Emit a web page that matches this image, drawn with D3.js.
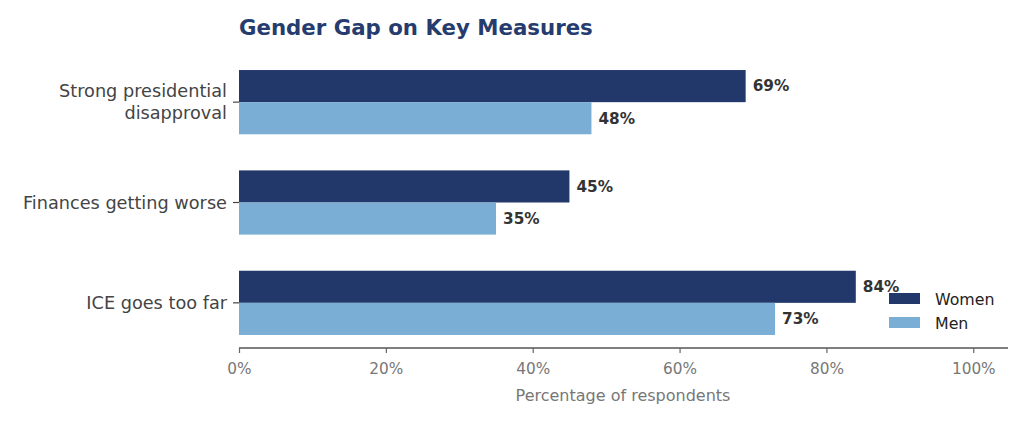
<!DOCTYPE html>
<html>
<head>
<meta charset="utf-8">
<script src="https://cdn.jsdelivr.net/npm/d3@7"></script>
<style>
  body { margin: 0; background: #fff; }
  text { font-family: "DejaVu Sans", sans-serif; }
</style>
</head>
<body>
<div class="chart"></div>
<script>
var categories = ["Strong presidential\ndisapproval", "Finances getting worse", "ICE goes too far"];
var women = [69, 45, 84];
var men = [48, 35, 73];
var xTicks = [0, 20, 40, 60, 80, 100];

var svgWidth = 1024;
var svgHeight = 421;

var svg = d3.select(".chart")
  .append("svg")
  .attr("width", svgWidth)
  .attr("height", svgHeight);

// plot area in pixels
var plot = { left: 239, right: 1010, top: 57, bottom: 348 };

var x = d3.scaleLinear().domain([0, 105]).range([plot.left, plot.right]);
var y = d3.scaleLinear().domain([-0.45, 2.45]).range([plot.top, plot.bottom]);
var barH = 0.32;

var colors = { women: "#22386a", men: "#7aaed5" };

// title
svg.append("text")
  .attr("x", plot.left)
  .attr("y", 35)
  .attr("font-size", "21.3px")
  .attr("font-weight", "bold")
  .attr("fill", "#263c6e")
  .text("Gender Gap on Key Measures");

// bars
var series = [
  { key: "women", values: women, offset: -barH },
  { key: "men", values: men, offset: 0 }
];

series.forEach(s => {
  svg.selectAll(".bar-" + s.key)
    .data(s.values)
    .enter()
    .append("rect")
    .attr("class", "bar-" + s.key)
    .attr("x", x(0))
    .attr("y", (d, i) => y(i + s.offset))
    .attr("width", d => x(d) - x(0))
    .attr("height", y(barH) - y(0))
    .attr("fill", colors[s.key]);

  svg.selectAll(".lbl-" + s.key)
    .data(s.values)
    .enter()
    .append("text")
    .attr("class", "lbl-" + s.key)
    .attr("x", d => x(d) + 7)
    .attr("y", (d, i) => y(i + s.offset + barH / 2))
    .attr("dy", "0.35em")
    .attr("font-size", "15.3px")
    .attr("font-weight", "bold")
    .attr("fill", "#333")
    .text(d => d + "%");
});

// x axis
var xAxis = svg.append("g")
  .attr("transform", `translate(0, ${plot.bottom})`)
  .call(d3.axisBottom(x).tickValues(xTicks).tickFormat(d => d + "%").tickSize(5).tickPadding(10));
xAxis.select(".domain").attr("stroke", "#555").attr("stroke-width", 1.6)
  .attr("d", `M${plot.left},0H${plot.right - 2}`);
xAxis.selectAll(".tick line").attr("stroke", "#666").attr("stroke-width", 1.2);
xAxis.selectAll(".tick text")
  .attr("font-family", "DejaVu Sans, sans-serif")
  .attr("font-size", "15.3px")
  .attr("fill", "#777");

svg.append("text")
  .attr("x", 623)
  .attr("y", 401)
  .attr("text-anchor", "middle")
  .attr("font-size", "16px")
  .attr("fill", "#777")
  .text("Percentage of respondents");

// y axis ticks and labels (no spine)
var yAxis = svg.append("g");
categories.forEach((c, i) => {
  yAxis.append("line")
    .attr("x1", plot.left - 6).attr("x2", plot.left)
    .attr("y1", y(i)).attr("y2", y(i))
    .attr("stroke", "#444").attr("stroke-width", 1.2);
  var lines = c.split("\n");
  var t = yAxis.append("text")
    .attr("text-anchor", "end")
    .attr("font-size", "17.7px")
    .attr("fill", "#444");
  lines.forEach((l, j) => {
    t.append("tspan")
      .attr("x", plot.left - 12)
      .attr("y", y(i) + (j - (lines.length - 1) / 2) * 22)
      .attr("dy", "0.35em")
      .text(l);
  });
});

// legend
var legendItems = [{ name: "Women", key: "women" }, { name: "Men", key: "men" }];
var legend = svg.append("g").attr("transform", "translate(889, 293)");
legend.selectAll("rect")
  .data(legendItems)
  .enter()
  .append("rect")
  .attr("x", 0)
  .attr("y", (d, i) => i * 24)
  .attr("width", 31)
  .attr("height", 11)
  .attr("fill", d => colors[d.key]);
legend.selectAll("text")
  .data(legendItems)
  .enter()
  .append("text")
  .attr("x", 46)
  .attr("y", (d, i) => i * 24 + 6)
  .attr("dy", "0.35em")
  .attr("font-size", "15.8px")
  .attr("fill", "#222")
  .text(d => d.name);
</script>
</body>
</html>
